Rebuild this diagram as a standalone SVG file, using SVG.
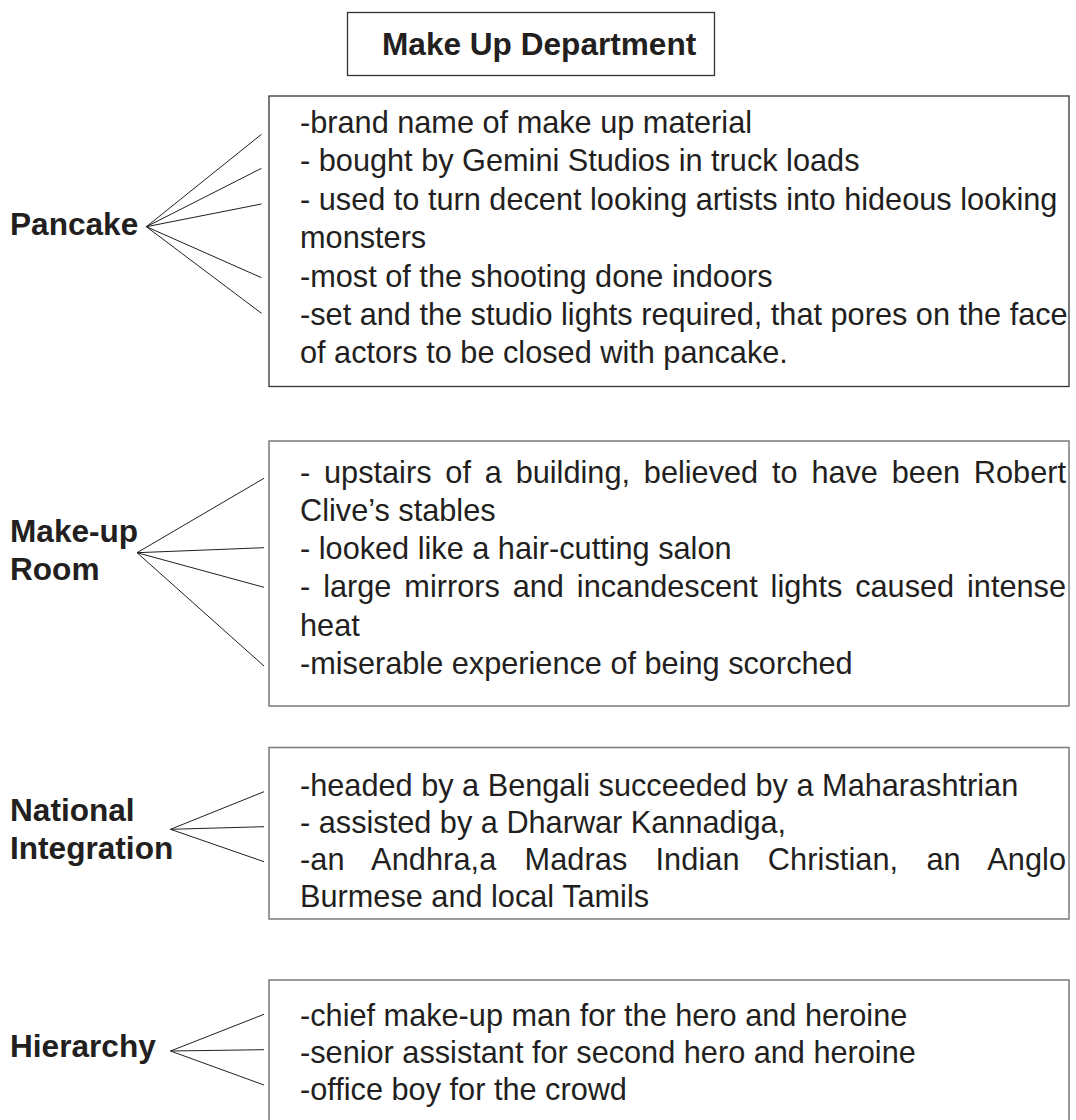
<svg xmlns="http://www.w3.org/2000/svg" width="1076" height="1120" viewBox="0 0 1076 1120">
<style>
.bg{fill:#ffffff}
.box{fill:none;stroke:#333333;stroke-width:1.3}
.box2{fill:none;stroke:#7a7a7a;stroke-width:1.5}
.lbl{font-family:"Liberation Sans",Arial,sans-serif;font-weight:bold;font-size:31.6px;fill:#231f20}
.txt{font-family:"Liberation Sans",Arial,sans-serif;font-size:30.7px;fill:#231f20}
.con line{stroke:#231f20;stroke-width:1}
</style>
<rect class="bg" x="0" y="0" width="1076" height="1120"/>
<g id="title">
<rect class="box" x="347.5" y="12.5" width="367" height="63"/>
<text class="lbl" x="382" y="55">Make Up Department</text>
</g>
<g id="pancake">
<text class="lbl" x="10" y="235">Pancake</text>
</g>
<g id="pancake-notes">
<rect class="box" x="269" y="96" width="800" height="290.5"/>
<text class="txt" x="300" y="133">-brand name of make up material</text>
<text class="txt" x="300" y="171.4">- bought by Gemini Studios in truck loads</text>
<text class="txt" x="300" y="209.8">- used to turn decent looking artists into hideous looking</text>
<text class="txt" x="300" y="248.2">monsters</text>
<text class="txt" x="300" y="286.6">-most of the shooting done indoors</text>
<text class="txt" x="300" y="325">-set and the studio lights required, that pores on the face</text>
<text class="txt" x="300" y="363.4">of actors to be closed with pancake.</text>
</g>
<g id="makeup-room">
<text class="lbl" x="10" y="541.7">Make-up</text>
<text class="lbl" x="10" y="580">Room</text>
</g>
<g id="makeup-room-notes">
<rect class="box2" x="269" y="441" width="800" height="265"/>
<text class="txt" x="300" y="482.5" word-spacing="5.3" textLength="766" lengthAdjust="spacing">- upstairs of a building, believed to have been Robert</text>
<text class="txt" x="300" y="520.5">Clive’s stables</text>
<text class="txt" x="300" y="558.5">- looked like a hair-cutting salon</text>
<text class="txt" x="300" y="597" word-spacing="4.4" textLength="766" lengthAdjust="spacing">- large mirrors and incandescent lights caused intense</text>
<text class="txt" x="300" y="635.5">heat</text>
<text class="txt" x="300" y="674">-miserable experience of being scorched</text>
</g>
<g id="national-integration">
<text class="lbl" x="10" y="820.7">National</text>
<text class="lbl" x="10" y="859.3">Integration</text>
</g>
<g id="national-integration-notes">
<rect class="box2" x="269" y="747.5" width="800" height="171.5"/>
<text class="txt" x="300" y="796">-headed by a Bengali succeeded by a Maharashtrian</text>
<text class="txt" x="300" y="833">- assisted by a Dharwar Kannadiga,</text>
<text class="txt" x="300" y="870" word-spacing="19.6" textLength="766" lengthAdjust="spacing">-an Andhra,a Madras Indian Christian, an Anglo</text>
<text class="txt" x="300" y="907">Burmese and local Tamils</text>
</g>
<g id="hierarchy">
<text class="lbl" x="10" y="1057.3">Hierarchy</text>
</g>
<g id="hierarchy-notes">
<rect class="box2" x="269" y="980" width="800" height="145"/>
<text class="txt" x="300" y="1025.7">-chief make-up man for the hero and heroine</text>
<text class="txt" x="300" y="1062.7">-senior assistant for second hero and heroine</text>
<text class="txt" x="300" y="1100">-office boy for the crowd</text>
</g>
<g id="connectors" class="con">
<line x1="146.4" y1="226.7" x2="261.5" y2="134.3"/>
<line x1="146.4" y1="226.7" x2="261.5" y2="168.3"/>
<line x1="146.4" y1="226.7" x2="261.5" y2="204"/>
<line x1="146.4" y1="226.7" x2="261.5" y2="277.7"/>
<line x1="146.4" y1="226.7" x2="261.5" y2="313.3"/>
<line x1="137" y1="552.7" x2="264" y2="478.3"/>
<line x1="137" y1="552.7" x2="264" y2="547.7"/>
<line x1="137" y1="552.7" x2="264" y2="587.3"/>
<line x1="137" y1="552.7" x2="264" y2="666"/>
<line x1="170.5" y1="829.3" x2="264" y2="791.7"/>
<line x1="170.5" y1="829.3" x2="264" y2="826.7"/>
<line x1="170.5" y1="829.3" x2="264" y2="861.7"/>
<line x1="170.5" y1="1051" x2="264" y2="1014.3"/>
<line x1="170.5" y1="1051" x2="264" y2="1049.7"/>
<line x1="170.5" y1="1051" x2="264" y2="1085"/>
</g>
</svg>
